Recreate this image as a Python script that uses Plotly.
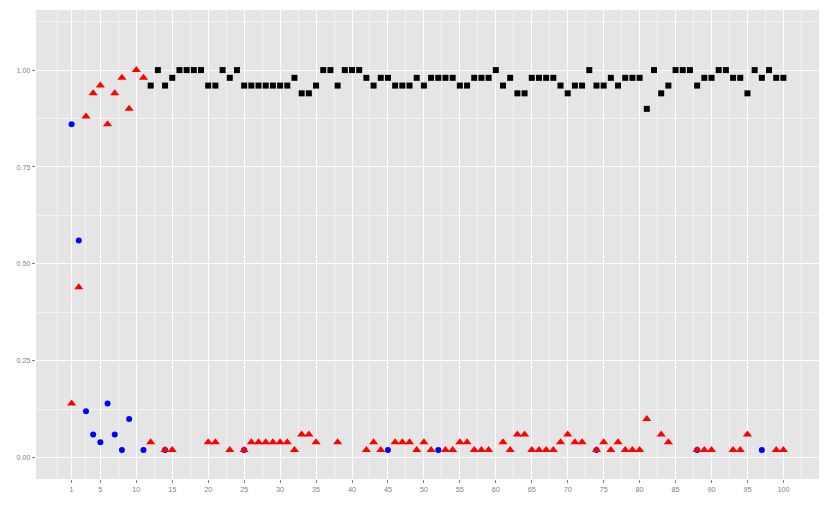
import plotly.graph_objects as go

# proportions per step; zero shares are not drawn
blue_x = [1, 2, 3, 4, 5, 6, 7, 8, 9, 11, 14, 25, 45, 52, 74, 88, 97]
blue_y = [0.86, 0.56, 0.12, 0.06, 0.04, 0.14, 0.06, 0.02, 0.10, 0.02, 0.02, 0.02, 0.02, 0.02, 0.02, 0.02, 0.02]

red_x = [1, 2, 3, 4, 5, 6, 7, 8, 9, 10, 11, 12, 14, 15, 20, 21, 23, 25,
         26, 27, 28, 29, 30, 31, 32, 33, 34, 35, 38, 42, 43, 44, 46, 47, 48, 49, 50,
         51, 53, 54, 55, 56, 57, 58, 59, 61, 62, 63, 64, 65, 66, 67, 68, 69, 70,
         71, 72, 74, 75, 76, 77, 78, 79, 80, 81, 83, 84, 88, 89, 90, 93, 94, 95, 99, 100]
red_y = [0.14, 0.44, 0.88, 0.94, 0.96, 0.86, 0.94, 0.98, 0.90, 1.00, 0.98, 0.04, 0.02, 0.02, 0.04, 0.04, 0.02, 0.02,
         0.04, 0.04, 0.04, 0.04, 0.04, 0.04, 0.02, 0.06, 0.06, 0.04, 0.04, 0.02, 0.04, 0.02, 0.04, 0.04, 0.04, 0.02, 0.04,
         0.02, 0.02, 0.02, 0.04, 0.04, 0.02, 0.02, 0.02, 0.04, 0.02, 0.06, 0.06, 0.02, 0.02, 0.02, 0.02, 0.04, 0.06,
         0.04, 0.04, 0.02, 0.04, 0.02, 0.04, 0.02, 0.02, 0.02, 0.10, 0.06, 0.04, 0.02, 0.02, 0.02, 0.02, 0.02, 0.06, 0.02, 0.02]

black_x = list(range(12, 101))
black_y = [0.96, 1.00, 0.96, 0.98, 1.00, 1.00, 1.00, 1.00, 0.96,            # 12-20
           0.96, 1.00, 0.98, 1.00, 0.96, 0.96, 0.96, 0.96, 0.96, 0.96,      # 21-30
           0.96, 0.98, 0.94, 0.94, 0.96, 1.00, 1.00, 0.96, 1.00, 1.00,      # 31-40
           1.00, 0.98, 0.96, 0.98, 0.98, 0.96, 0.96, 0.96, 0.98, 0.96,      # 41-50
           0.98, 0.98, 0.98, 0.98, 0.96, 0.96, 0.98, 0.98, 0.98, 1.00,      # 51-60
           0.96, 0.98, 0.94, 0.94, 0.98, 0.98, 0.98, 0.98, 0.96, 0.94,      # 61-70
           0.96, 0.96, 1.00, 0.96, 0.96, 0.98, 0.96, 0.98, 0.98, 0.98,      # 71-80
           0.90, 1.00, 0.94, 0.96, 1.00, 1.00, 1.00, 0.96, 0.98, 0.98,      # 81-90
           1.00, 1.00, 0.98, 0.98, 0.94, 1.00, 0.98, 1.00, 0.98, 0.98]      # 91-100

x_ticks = [1] + list(range(5, 101, 5))
x_minor = [-1, 3] + [v + 2.5 for v in range(5, 101, 5)]
y_ticks = [0, 0.25, 0.5, 0.75, 1.0]
y_minor = [0.125, 0.375, 0.625, 0.875, 1.125]

fig = go.Figure()
fig.add_trace(go.Scatter(x=blue_x, y=blue_y, mode="markers",
                         marker=dict(symbol="circle", size=6, color="#0000FF")))
fig.add_trace(go.Scatter(x=red_x, y=red_y, mode="markers",
                         marker=dict(symbol="triangle-up", size=8, color="#FF0000")))
fig.add_trace(go.Scatter(x=black_x, y=black_y, mode="markers",
                         marker=dict(symbol="square", size=6, color="#000000")))

tick_font = dict(family="Liberation Sans, Arial, sans-serif", size=7.2, color="#7F7F7F")
fig.update_xaxes(
    range=[-3.95, 104.95], tickvals=x_ticks, ticktext=[str(v) for v in x_ticks],
    showgrid=True, gridcolor="white", gridwidth=1.2, zeroline=False,
    ticks="outside", ticklen=3, tickcolor="#7F7F7F", tickfont=tick_font,
    minor=dict(tickvals=x_minor, showgrid=True, gridcolor="#F2F2F2", gridwidth=0.6, ticks=""),
    showline=False, automargin=False,
)
fig.update_yaxes(
    range=[-0.055, 1.155], tickvals=y_ticks, ticktext=["0.00", "0.25", "0.50", "0.75", "1.00"],
    showgrid=True, gridcolor="white", gridwidth=1.2, zeroline=False,
    ticks="outside", ticklen=3, tickcolor="#7F7F7F", tickfont=tick_font,
    minor=dict(tickvals=y_minor, showgrid=True, gridcolor="#F2F2F2", gridwidth=0.6, ticks=""),
    showline=False, automargin=False,
)
# page body adds an 8px offset, so the figure is 8px smaller and margins shifted
fig.update_layout(
    width=822, height=498,
    paper_bgcolor="white", plot_bgcolor="#E5E5E5",
    showlegend=False,
    margin=dict(l=28, r=11, t=2, b=27),
)
fig.write_html("out.html")
